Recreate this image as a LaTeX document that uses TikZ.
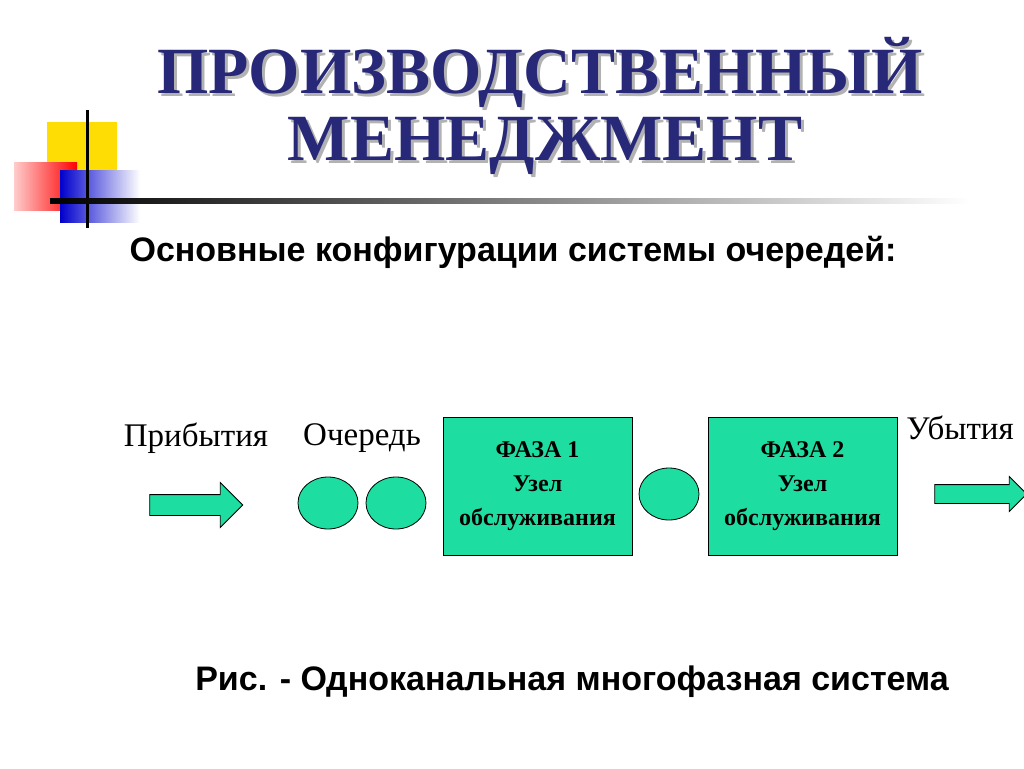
\documentclass[tikz,border=0pt]{standalone}
\usepackage{fontspec}
\setmainfont{Liberation Serif}
\setsansfont{Liberation Sans}
\usepackage{tikz}
\usetikzlibrary{shapes.arrows,shapes.geometric}
\definecolor{teal}{RGB}{29,222,160}
\definecolor{navy}{RGB}{40,40,120}
\tikzset{
  fill box/.style={draw,thick,fill=teal},
  phase/.style={fill box,minimum width=189pt,minimum height=138pt,align=center,
    font=\bfseries\fontsize{24}{34}\selectfont},
  client/.style={fill box,ellipse,minimum width=60pt,minimum height=52pt},
  flow/.style={fill box,single arrow,minimum height=93pt,inner xsep=0pt,
    inner ysep=10pt,single arrow head extend=12pt},
  label/.style={font=\fontsize{33}{36}\selectfont},
  headline/.style={font=\bfseries\fontsize{66}{68}\selectfont},
  caption/.style={font=\sffamily\bfseries\fontsize{34}{36}\selectfont},
}
\begin{document}
\begin{tikzpicture}[x=1pt,y=-1pt]
            \useasboundingbox (0,0) rectangle (1024,768);
            % logo
            \fill[yellow!80!orange] (47,122) rectangle (117,170);
            \shade[left color=red!20,right color=red] (14,162) rectangle (77,210);
            \shade[left color=blue!80!black,right color=white] (60,170) rectangle (140,222);
            \draw[line width=3pt] (87,110) -- (87,228);
            \shade[left color=black,right color=white] (50,198) rectangle (970,203);
            % titles (gray copy as shadow)
            \node[headline,text=gray!60] (shadow1) at (543,75) {ПРОИЗВОДСТВЕННЫЙ};
            \node[headline,text=gray!60] (shadow2) at (548,149) {МЕНЕДЖМЕНТ};
            \node[headline,text=navy] (title1) at (540,72) {ПРОИЗВОДСТВЕННЫЙ};
            \node[headline,text=navy] (title2) at (545,146) {МЕНЕДЖМЕНТ};
            \node[caption] (sub) at (513,252) {Основные конфигурации системы очередей:};

            \node[flow] (in) at (191,505) {};
            \node[client] (q1) at (328,503) {};
            \node[client] (q2) at (396,503) {};
            \node[phase] (f1) at (537.5,486) {ФАЗА 1\\Узел\\обслуживания};
            \node[client] (q3) at (669,494) {};
            \node[phase] (f2) at (802.5,486) {ФАЗА 2\\Узел\\обслуживания};
            \node[flow,minimum height=92pt,inner ysep=9pt,single arrow head extend=8pt] (out) at (976,494) {};

            \node[label] (arr) at (196,438) {Прибытия};
            \node[label] (queue) at (362,438) {Очередь};
            \node[label] (dep) at (960,428) {Убытия};

            \node[caption] (cap) at (572,682) {Рис. - Одноканальная многофазная система};
        \end{tikzpicture}
\end{document}
